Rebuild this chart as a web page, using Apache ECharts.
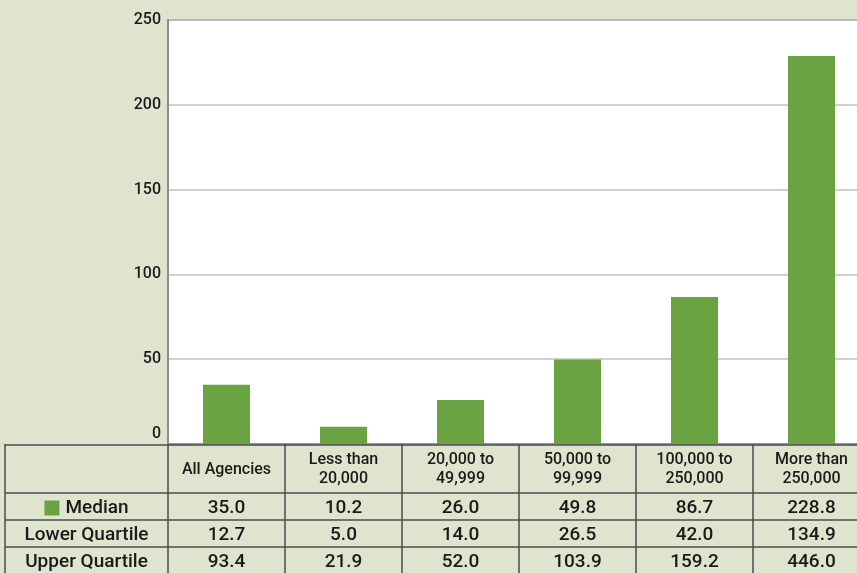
<!DOCTYPE html>
<html>
<head>
<meta charset="utf-8">
<script src="https://cdn.jsdelivr.net/npm/echarts@6/dist/echarts.min.js"></script>
<style>
  html, body { margin: 0; padding: 0; background: #dfe4cf; }
  #chart { width: 857px; height: 573px; }
</style>
</head>
<body>
<div id="chart"></div>
<script>
const categories = ['All Agencies', 'Less than\n20,000', '20,000 to\n49,999', '50,000 to\n99,999', '100,000 to\n250,000', 'More than\n250,000'];
const median = [35.0, 10.2, 26.0, 49.8, 86.7, 228.8];
const lowerQuartile = [12.7, 5.0, 14.0, 26.5, 42.0, 134.9];
const upperQuartile = [93.4, 21.9, 52.0, 103.9, 159.2, 446.0];
const rowLabels = ['Median', 'Lower Quartile', 'Upper Quartile'];
const yMin = 0, yMax = 250, yStep = 50;

const GREEN = '#6aa342';
const INK = '#1a1a1a';
const BORDER = '#4d4d4d';
const FONT = 'Roboto, "Liberation Sans", sans-serif';

const chart = echarts.init(document.getElementById('chart'));

chart.setOption({
  backgroundColor: '#dfe4cf',
  animation: false,
  grid: {
    left: 168, top: 20, width: 702, bottom: 129,
    show: true, backgroundColor: '#fff', borderColor: '#8c8c8c', borderWidth: 1.5,
    outerBoundsMode: 'none'
  },
  xAxis: {
    type: 'category',
    data: categories,
    axisLine: { lineStyle: { color: '#8c8c8c', width: 1.5 } },
    axisTick: { show: false },
    axisLabel: { show: false }
  },
  yAxis: {
    type: 'value',
    min: yMin, max: yMax, interval: yStep,
    axisLine: { show: true, lineStyle: { color: '#8c8c8c', width: 2 } },
    axisTick: { show: false },
    splitLine: { lineStyle: { color: '#c0c0c0', width: 1.5 } },
    axisLabel: {
      color: INK, fontSize: 16, fontWeight: 500, fontFamily: FONT, margin: 7,
      formatter: v => v === 0 ? '{z|0}' : String(v),
      rich: { z: { fontSize: 16, fontWeight: 500, fontFamily: FONT, color: INK, padding: [0, 0, 20, 0] } }
    }
  },
  series: [{
    type: 'bar',
    data: median,
    barWidth: 47,
    itemStyle: { color: GREEN }
  }]
});

function drawTable() {
  const top = chart.convertToPixel({ yAxisIndex: 0 }, 0);
  const centers = categories.map((c, i) => chart.convertToPixel({ xAxisIndex: 0 }, i));
  const colW = centers[1] - centers[0];
  const gridLeft = centers[0] - colW / 2;
  const tableLeft = 5;
  const bottom = 573;
  const rowH = [49, 27, 27, 27];
  const rowTops = [top];
  rowH.forEach(h => rowTops.push(rowTops[rowTops.length - 1] + h));

  const els = [];
  const line = (x1, y1, x2, y2) => els.push({
    type: 'line', z: 10,
    shape: { x1, y1, x2, y2 },
    style: { stroke: BORDER, lineWidth: 1.5 }
  });
  const text = (t, x, y, size, extra) => els.push({
    type: 'text', z: 11,
    style: Object.assign({
      text: t, x, y, align: 'center', verticalAlign: 'middle',
      fontSize: size, fontWeight: 500, fontFamily: FONT, fill: INK, lineHeight: 19
    }, extra || {})
  });

  // horizontal borders
  line(tableLeft, top + 1, gridLeft + colW * categories.length + 20, top + 1);
  for (let r = 1; r < rowTops.length - 1; r++) {
    line(tableLeft, rowTops[r], 857, rowTops[r]);
  }
  // vertical borders
  line(tableLeft, top, tableLeft, bottom);
  for (let k = 0; k <= categories.length; k++) {
    line(gridLeft + k * colW, top, gridLeft + k * colW, bottom);
  }

  // header row
  categories.forEach((c, i) => text(c, centers[i], (rowTops[0] + rowTops[1]) / 2 + 1, 16));

  // data rows
  const rows = [median, lowerQuartile, upperQuartile];
  const labelX = (tableLeft + gridLeft) / 2;
  rows.forEach((vals, r) => {
    const cy = (rowTops[r + 1] + rowTops[r + 2]) / 2 + 1.5;
    if (r === 0) {
      text('{sq|}{g|}{t|' + rowLabels[r] + '}', labelX, cy, 19, {
        rich: {
          sq: { width: 15, height: 15, backgroundColor: GREEN },
          g: { width: 6 },
          t: { fontSize: 19, fontWeight: 500, fontFamily: FONT, fill: INK }
        }
      });
    } else {
      text(rowLabels[r], labelX, cy, 19);
    }
    vals.forEach((v, i) => text(v.toFixed(1), centers[i], cy, 19));
  });

  chart.setOption({ graphic: { elements: els } });
}

drawTable();
</script>
</body>
</html>
